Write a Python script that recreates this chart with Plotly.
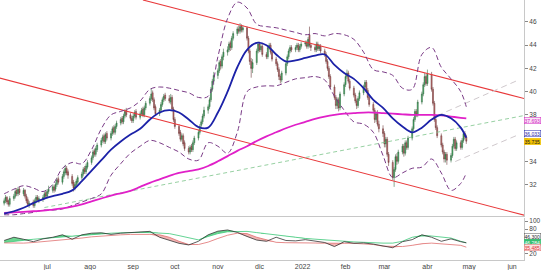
import plotly.graph_objects as go
from plotly.subplots import make_subplots
import pandas as pd
import numpy as np

# ---------------- daily OHLC (one row per week, Mon..Fri) ----------------
opens_w = [
    [30.4, 30.6, 30.9, 30.6, 30.3], [30.8, 31.0, 31.5, 31.2, 31.6], [31.2, 31.5, 31.0, 30.7, 30.2],
    [30.5, 30.2, 30.6, 30.9, 30.6], [30.7, 30.9, 31.3, 31.0, 31.4], [31.5, 31.8, 31.6, 32.0, 32.5],
    [32.2, 32.7, 33.0, 33.4, 33.1], [32.7, 32.2, 31.7, 32.0, 32.2], [32.6, 32.9, 33.4, 33.1, 33.5],
    [33.9, 34.3, 34.9, 34.6, 35.0], [35.4, 35.8, 36.2, 35.7, 36.4], [36.0, 36.4, 36.9, 36.5, 37.0],
    [37.3, 37.7, 37.4, 37.9, 38.4], [38.0, 37.7, 37.5, 37.9, 38.3], [37.8, 38.1, 38.5, 38.0, 38.6],
    [39.0, 39.4, 39.9, 39.3, 38.7], [38.1, 38.4, 38.9, 39.3, 39.7], [39.4, 39.1, 39.5, 38.5, 37.6],
    [37.0, 36.5, 35.9, 36.2, 35.6], [35.1, 34.8, 35.3, 35.0, 35.6], [36.0, 36.5, 37.1, 37.4, 37.9],
    [38.4, 38.7, 39.3, 40.2, 40.9], [41.4, 41.8, 42.6, 42.2, 43.0], [43.4, 43.6, 44.2, 43.8, 44.6],
    [45.0, 45.4, 45.2, 45.6, 45.3], [45.5, 44.6, 43.5, 42.6, 42.0], [42.5, 43.5, 44.1, 43.6, 43.9],
    [43.2, 43.0, 43.8, 44.0, 43.4], [42.8, 42.4, 41.9, 41.3, 41.0], [41.6, 42.4, 43.0, 43.5, 43.8],
    [43.6, 43.8, 44.0, 43.6, 43.9], [44.1, 44.2, 43.9, 44.9, 44.0], [43.8, 43.6, 44.1, 43.7, 43.9],
    [43.5, 43.2, 42.6, 42.0, 41.3], [40.4, 39.5, 38.8, 39.3, 38.6], [39.8, 40.6, 41.3, 41.6, 40.9],
    [40.3, 39.7, 39.2, 38.8, 39.4], [39.9, 40.4, 40.8, 40.1, 39.5], [38.9, 38.4, 37.6, 38.1, 37.2],
    [36.8, 36.4, 35.5, 35.9, 34.6], [33.9, 32.6, 33.3, 34.4, 34.0], [34.8, 35.3, 34.7, 35.6, 35.2],
    [36.0, 36.8, 37.6, 38.3, 38.0], [39.1, 39.8, 40.6, 41.3, 40.7], [41.5, 40.2, 39.0, 37.6, 36.9],
    [36.2, 35.4, 34.8, 34.2, 34.6], [34.1, 34.5, 35.3, 35.9, 35.1], [35.6, 35.2, 35.8, 36.4, 36.1],
]
highs_w = [
    [30.8, 31.1, 31.0, 30.7, 31.0], [31.2, 31.6, 31.7, 31.8, 31.8], [31.7, 31.6, 31.2, 30.9, 30.6],
    [30.7, 30.8, 31.1, 31.1, 31.0], [31.1, 31.4, 31.5, 31.6, 31.9], [32.0, 32.0, 32.2, 32.6, 32.7],
    [32.9, 33.3, 33.7, 33.6, 33.3], [32.9, 32.4, 32.2, 32.5, 32.8], [33.1, 33.5, 33.6, 33.8, 34.1],
    [34.5, 35.0, 35.1, 35.3, 35.6], [36.0, 36.3, 36.4, 36.5, 36.6], [36.6, 37.0, 37.1, 37.2, 37.5],
    [37.8, 37.9, 38.1, 38.5, 38.6], [38.2, 37.9, 38.1, 38.4, 38.5], [38.3, 38.6, 38.7, 38.8, 39.2],
    [39.6, 40.3, 40.1, 39.5, 38.9], [38.6, 39.1, 39.5, 39.8, 39.9], [39.7, 39.8, 39.7, 38.7, 37.8],
    [37.2, 36.7, 36.4, 36.4, 35.8], [35.3, 35.4, 35.5, 35.8, 36.2], [36.7, 37.2, 37.6, 38.1, 38.7],
    [38.9, 39.5, 40.4, 41.1, 41.7], [42.0, 42.7, 42.8, 43.2, 43.7], [43.9, 44.3, 44.4, 44.8, 45.2],
    [45.6, 45.7, 45.9, 45.8, 45.7], [45.6, 44.8, 43.7, 42.9, 42.8], [43.7, 44.3, 44.3, 44.1, 44.1],
    [43.4, 44.0, 44.2, 44.2, 43.6], [43.0, 42.6, 42.1, 41.5, 41.8], [42.6, 43.2, 43.7, 44.0, 44.0],
    [44.0, 44.2, 44.2, 44.1, 44.3], [44.4, 44.4, 44.7, 45.6, 44.2], [44.0, 44.3, 44.3, 44.1, 44.1],
    [43.7, 43.4, 42.8, 42.2, 41.5], [40.6, 39.7, 39.5, 39.5, 40.0], [40.8, 41.5, 41.9, 41.8, 41.1],
    [40.5, 39.9, 39.4, 39.6, 40.1], [40.6, 41.0, 41.0, 40.3, 39.7], [39.1, 38.6, 38.3, 38.4, 37.5],
    [37.1, 36.6, 36.1, 36.1, 34.8], [34.1, 33.5, 34.6, 34.7, 35.0], [35.5, 35.5, 35.8, 35.8, 36.2],
    [37.0, 37.8, 38.5, 38.5, 39.3], [40.0, 40.8, 41.6, 41.5, 41.9], [41.7, 40.4, 39.2, 37.8, 37.1],
    [36.4, 35.6, 35.0, 34.8, 34.8], [34.7, 35.5, 36.1, 36.1, 35.8], [35.8, 36.0, 36.6, 36.6, 36.3],
]
lows_w = [
    [30.2, 30.4, 30.3, 30.1, 30.1], [30.6, 30.8, 31.0, 31.0, 31.1], [31.0, 30.8, 30.4, 30.1, 30.0],
    [30.0, 30.0, 30.4, 30.5, 30.4], [30.5, 30.7, 30.8, 30.8, 31.2], [31.3, 31.3, 31.4, 31.8, 32.0],
    [32.0, 32.5, 32.8, 32.8, 32.5], [31.9, 31.4, 31.5, 31.8, 32.0], [32.4, 32.7, 32.9, 32.9, 33.3],
    [33.7, 34.1, 34.4, 34.4, 34.8], [35.2, 35.6, 35.5, 35.5, 35.8], [35.8, 36.2, 36.3, 36.3, 36.8],
    [37.1, 37.2, 37.2, 37.7, 37.8], [37.5, 37.3, 37.3, 37.7, 37.6], [37.6, 37.9, 37.8, 37.8, 38.4],
    [38.8, 39.2, 39.1, 38.4, 37.9], [37.9, 38.2, 38.7, 39.1, 39.2], [39.0, 38.9, 38.3, 37.4, 36.8],
    [36.2, 35.7, 35.7, 35.3, 34.9], [34.6, 34.6, 34.8, 34.8, 35.4], [35.8, 36.3, 36.9, 37.2, 37.7],
    [38.1, 38.5, 39.1, 40.0, 40.6], [41.1, 41.6, 41.9, 42.0, 42.7], [43.1, 43.4, 43.5, 43.6, 44.4],
    [44.8, 45.0, 45.0, 45.1, 45.1], [44.4, 43.3, 42.3, 41.2, 41.6], [42.3, 43.3, 43.4, 43.4, 43.0],
    [42.8, 42.8, 43.6, 43.2, 42.6], [42.2, 41.7, 41.0, 40.7, 40.8], [41.4, 42.2, 42.8, 43.3, 43.4],
    [43.4, 43.6, 43.4, 43.4, 43.7], [43.9, 43.7, 43.7, 43.8, 43.5], [43.4, 43.4, 43.5, 43.5, 43.3],
    [43.0, 42.4, 41.8, 41.1, 40.2], [39.3, 38.5, 38.5, 38.3, 38.4], [39.6, 40.4, 41.1, 40.7, 40.1],
    [39.5, 39.0, 38.5, 38.6, 39.2], [39.7, 40.2, 39.9, 39.3, 38.7], [38.2, 37.3, 37.4, 37.0, 36.5],
    [36.1, 35.2, 35.2, 34.4, 33.6], [32.4, 31.8, 33.1, 33.7, 33.8], [34.6, 34.4, 34.5, 35.0, 35.0],
    [35.8, 36.6, 37.4, 37.8, 37.8], [38.9, 39.6, 40.4, 40.5, 40.5], [40.0, 38.8, 37.4, 36.7, 36.0],
    [35.2, 34.6, 33.9, 33.9, 33.7], [33.9, 34.3, 35.1, 34.9, 34.9], [35.0, 35.0, 35.6, 35.9, 35.5],
]
closes_w = [
    [30.6, 30.9, 30.5, 30.3, 30.8], [31.0, 31.4, 31.2, 31.6, 31.3], [31.5, 31.0, 30.6, 30.3, 30.4],
    [30.2, 30.6, 30.9, 30.7, 30.8], [30.9, 31.2, 31.0, 31.4, 31.6], [31.8, 31.5, 32.0, 32.4, 32.2],
    [32.7, 33.1, 33.4, 33.0, 32.8], [32.1, 31.7, 32.0, 32.3, 32.6], [32.9, 33.3, 33.1, 33.6, 33.9],
    [34.3, 34.8, 34.6, 35.1, 35.4], [35.8, 36.1, 35.7, 36.3, 36.0], [36.4, 36.8, 36.5, 37.0, 37.3],
    [37.6, 37.4, 37.9, 38.3, 38.0], [37.7, 37.5, 37.9, 38.2, 37.8], [38.1, 38.4, 38.0, 38.6, 39.0],
    [39.4, 39.8, 39.3, 38.6, 38.1], [38.4, 38.9, 39.3, 39.6, 39.4], [39.2, 39.5, 38.5, 37.6, 37.0],
    [36.4, 35.9, 36.2, 35.5, 35.1], [34.8, 35.2, 35.0, 35.6, 36.0], [36.5, 37.0, 37.4, 37.9, 38.4],
    [38.7, 39.3, 40.2, 40.9, 41.4], [41.8, 42.5, 42.2, 43.0, 43.4], [43.6, 44.1, 43.8, 44.6, 45.0],
    [45.4, 45.2, 45.6, 45.3, 45.5], [44.6, 43.5, 42.6, 42.0, 42.5], [43.5, 44.1, 43.6, 43.9, 43.2],
    [43.0, 43.8, 44.0, 43.4, 42.8], [42.4, 41.9, 41.3, 41.0, 41.6], [42.4, 43.0, 43.5, 43.8, 43.6],
    [43.8, 44.0, 43.6, 43.9, 44.1], [44.2, 43.9, 44.5, 44.0, 43.8], [43.6, 44.1, 43.7, 43.9, 43.5],
    [43.2, 42.6, 42.0, 41.3, 40.4], [39.5, 38.8, 39.3, 38.6, 39.8], [40.6, 41.3, 41.6, 40.9, 40.3],
    [39.7, 39.2, 38.8, 39.4, 39.9], [40.4, 40.8, 40.1, 39.5, 38.9], [38.4, 37.6, 38.1, 37.2, 36.8],
    [36.4, 35.5, 35.9, 34.6, 33.9], [32.6, 33.3, 34.4, 34.0, 34.8], [35.3, 34.7, 35.6, 35.2, 36.0],
    [36.8, 37.6, 38.3, 38.0, 39.1], [39.8, 40.6, 41.3, 40.7, 41.5], [40.2, 39.0, 37.6, 36.9, 36.2],
    [35.4, 34.8, 34.2, 34.6, 34.1], [34.5, 35.3, 35.9, 35.1, 35.6], [35.2, 35.8, 36.4, 36.1, 35.735],
]

# ---------------- indicator lines, one value per week + last day ----------------
ma_blue = [29.5, 29.7, 30.0, 30.4, 30.75, 31.0, 31.2, 31.5, 32.3, 33.2, 34.1, 35.0, 35.7, 36.3,
           36.8, 37.6, 38.2, 38.4, 38.2, 37.6, 36.95, 36.9, 38.2, 40.0, 42.1, 43.6, 44.2, 44.0,
           43.2, 42.6, 42.7, 42.9, 43.1, 43.2, 42.3, 41.6, 41.1, 40.3, 39.3, 38.6, 37.7, 37.0,
           36.5, 36.9, 37.6, 38.0, 37.7, 36.9, 36.033]
ma_magenta = [29.55, 29.6, 29.65, 29.7, 29.75, 29.85, 29.95, 30.1, 30.3, 30.55, 30.8, 31.05,
              31.25, 31.45, 31.8, 32.15, 32.45, 32.75, 33.0, 33.15, 33.3, 33.6, 34.0, 34.45, 34.9,
              35.3, 35.75, 36.15, 36.5, 36.85, 37.15, 37.4, 37.65, 37.85, 38.0, 38.1, 38.15, 38.2,
              38.2, 38.15, 38.1, 38.05, 38.0, 38.0, 38.0, 37.95, 37.85, 37.75, 37.693]
band_upper = [31.2, 31.6, 31.9, 31.7, 31.4, 32.0, 33.4, 33.9, 33.8, 35.0, 36.8, 38.0, 38.3, 38.6,
              39.2, 40.2, 40.4, 40.3, 40.1, 39.9, 39.5, 39.6, 43.0, 46.3, 47.7, 47.2, 45.8, 45.6,
              45.5, 45.3, 45.1, 44.9, 45.0, 44.8, 45.0, 44.9, 44.5, 43.4, 41.9, 41.7, 41.4, 40.3,
              40.2, 43.2, 43.8, 42.1, 41.1, 40.0, 38.7]
band_lower = [29.4, 29.4, 29.5, 29.6, 29.8, 29.8, 29.9, 30.2, 30.5, 30.8, 31.2, 32.8, 33.8, 34.7,
              35.3, 35.8, 35.6, 35.2, 34.8, 34.2, 34.1, 35.6, 35.3, 34.7, 36.5, 40.0, 40.4, 40.5,
              40.5, 40.8, 41.1, 41.2, 41.3, 41.0, 39.6, 38.4, 37.4, 37.2, 36.5, 34.5, 32.6, 33.0,
              33.4, 33.5, 34.2, 33.0, 31.5, 32.1, 33.0]

osc_black = [52, 60, 55, 49, 56, 60, 66, 55, 66, 70, 71, 67, 70, 72, 73, 74.5, 60, 52, 45, 41, 50,
             66, 75, 78, 72, 62, 53, 50, 60, 52, 51, 54, 50, 47, 37, 49, 45, 46, 43, 38, 34, 49,
             54, 66, 60, 50, 56, 49, 46.3]
osc_green = [47, 50, 53, 55, 57, 59, 61, 63, 65, 67, 69, 70, 71, 72, 72, 71.5, 70.5, 69, 64, 58,
             53.5, 62, 69, 73.5, 74.5, 74.5, 71.5, 69, 66, 63, 60, 57, 55, 53, 51, 49.5, 48.5,
             47.5, 46, 45.5, 45.5, 50, 60, 63, 63, 61, 58, 50, 46.284]
osc_red = [46, 45.5, 45.5, 47, 49, 51, 53, 55, 58, 61, 63, 65, 66, 67, 67.5, 67, 66, 60, 50, 42,
           42, 48, 57, 65, 70, 69, 60, 53, 47.5, 46.5, 46, 45.5, 45.5, 45.5, 45, 45, 45, 44, 42,
           38, 37, 37, 40, 44, 45.5, 44, 41.5, 40, 35.485]

# ---------------- drawn trend lines (date, price) ----------------
chan_up_dates, chan_up_vals = ["2021-09-08", "2022-06-10"], [47.89, 39.4]
chan_lo_dates, chan_lo_vals = ["2021-05-27", "2022-06-10"], [41.2, 29.35]
green_tl_dates, green_tl_vals = ["2021-06-29", "2022-06-10"], [30.02, 37.95]
grey_up_dates, grey_up_vals = ["2022-04-08", "2022-06-06"], [37.93, 41.02]
grey_lo_dates, grey_lo_vals = ["2022-04-21", "2022-06-04"], [33.98, 36.21]

month_ticks = ["2021-06-01", "2021-07-01", "2021-08-01", "2021-09-01", "2021-10-01", "2021-11-01",
               "2021-12-01", "2022-01-01", "2022-02-01", "2022-03-01", "2022-04-01", "2022-05-01",
               "2022-06-01"]
month_labels = ["jun", "jul", "ago", "sep", "oct", "nov", "dic", "2022", "feb", "mar", "abr",
                "may", "jun"]
price_ticks = [32, 34, 36, 38, 40, 42, 44, 46]
price_tick_labels = ["32", "34", "", "38", "40", "42", "44", "46"]
osc_ticks = [20, 40, 60, 80, 100]
osc_tick_labels = ["20", "", "", "80", "100"]

# ---------------- build ----------------
flat = lambda w: [v for row in w for v in row]
opens, highs, lows, closes = flat(opens_w), flat(highs_w), flat(lows_w), flat(closes_w)
days = pd.bdate_range("2021-05-31", periods=len(closes))
weeks = list(pd.date_range("2021-05-31", periods=len(ma_blue) - 1, freq="7D")) + [days[-1]]

fig = make_subplots(rows=2, cols=1, shared_xaxes=True, vertical_spacing=0.004,
                    row_heights=[0.836, 0.164])

def line(x, y, color, width=1, dash=None, shape="linear", row=1):
    fig.add_trace(go.Scatter(x=x, y=y, mode="lines", hoverinfo="skip", showlegend=False,
                             line=dict(color=color, width=width, dash=dash, shape=shape)),
                  row=row, col=1)

line(chan_up_dates, chan_up_vals, "#e8383a", 1.1)
line(chan_lo_dates, chan_lo_vals, "#e8383a", 1.1)
line(green_tl_dates, green_tl_vals, "#7cc48a", 0.8, "4px,3px")
line(grey_up_dates, grey_up_vals, "#cfc8cc", 1, "6px,4px")
line(grey_lo_dates, grey_lo_vals, "#cfc8cc", 1, "6px,4px")

fig.add_trace(go.Candlestick(
    x=days, open=opens, high=highs, low=lows, close=closes, showlegend=False, hoverinfo="skip",
    whiskerwidth=0,
    increasing=dict(fillcolor="#2fb05a", line=dict(color="#3c6e48", width=0.6)),
    decreasing=dict(fillcolor="#d06a6a", line=dict(color="#6e3c3c", width=0.6))), row=1, col=1)

line(weeks, band_upper, "#7a3b86", 1, "5px,3px", "spline")
line(weeks, band_lower, "#7a3b86", 1, "5px,3px", "spline")
line(weeks, ma_magenta, "#e020c8", 1.8, None, "spline")
line(weeks, ma_blue, "#1c22a8", 1.8, None, "spline")

# lower panel with fills
g = np.array(osc_green); r = np.array(osc_red); b = np.array(osc_black)
line(weeks, osc_green, "#3cc878", 0.8, row=2)
fig.add_trace(go.Scatter(x=weeks, y=np.maximum(b, g), mode="lines", fill="tonexty",
                         fillcolor="rgba(60,200,110,0.75)", line=dict(width=0),
                         hoverinfo="skip", showlegend=False), row=2, col=1)
line(weeks, osc_red, "#e07070", 0.8, row=2)
fig.add_trace(go.Scatter(x=weeks, y=np.minimum(b, r), mode="lines", fill="tonexty",
                         fillcolor="rgba(235,130,130,0.6)", line=dict(width=0),
                         hoverinfo="skip", showlegend=False), row=2, col=1)
line(weeks, osc_black, "#333333", 0.8, row=2)

tickfont = dict(family="Liberation Sans, Arial, sans-serif", size=6.5, color="#444")
xr = ["2021-05-28", "2022-06-09 14:00"]
fig.update_xaxes(range=xr, showgrid=False, zeroline=False, rangeslider_visible=False,
                 showline=True, linecolor="#c8c8c8", linewidth=1)
fig.update_xaxes(showticklabels=False, ticks="", row=1, col=1)
fig.update_xaxes(tickvals=month_ticks, ticktext=month_labels, ticks="",
                 tickfont=dict(family="Liberation Sans, Arial, sans-serif", size=7, color="#444"),
                 ticklabelstandoff=0, row=2, col=1)
fig.update_yaxes(side="right", showgrid=False, zeroline=False, showline=True,
                 linecolor="#c8c8c8", ticks="outside", ticklen=3, tickcolor="#888",
                 tickfont=tickfont)
fig.update_yaxes(range=[29.25, 47.89], tickvals=price_ticks, ticktext=price_tick_labels,
                 row=1, col=1)
fig.update_yaxes(range=[3.75, 108.75], tickvals=osc_ticks, ticktext=osc_tick_labels,
                 row=2, col=1)

def tag(text, y, yref, fc, bg, bc):
    fig.add_annotation(x=1.0, xref="paper", xanchor="left", xshift=0, y=y, yref=yref,
                       text=text, showarrow=False,
                       font=dict(family="Liberation Sans", size=5, color=fc),
                       bgcolor=bg, bordercolor=bc, borderwidth=0.5, borderpad=0)

tag(f"{ma_magenta[-1]:.3f}", 37.55, "y", "#d020c0", "#fbe6f8", "#d020c0")
tag(f"{ma_blue[-1]:.3f}", 36.4, "y", "#1c22a8", "#ffffff", "#1c22a8")
tag(f"{closes[-1]:.3f}", 35.68, "y", "#222222", "#f2c200", "#f2c200")
tag(f"{osc_black[-1]:.3f}", 62, "y2", "#222222", "#ffffff", "#555555")
tag(f"{osc_green[-1]:.3f}", 48, "y2", "#ffffff", "#35c070", "#35c070")
tag(f"{osc_red[-1]:.3f}", 35, "y2", "#e03030", "#fde2e2", "#e07070")

fig.update_layout(width=544, height=270, margin=dict(l=0, r=20, t=0, b=10),
                  paper_bgcolor="white", plot_bgcolor="white", boxgap=0,
                  showlegend=False)
fig.write_html("out.html")
